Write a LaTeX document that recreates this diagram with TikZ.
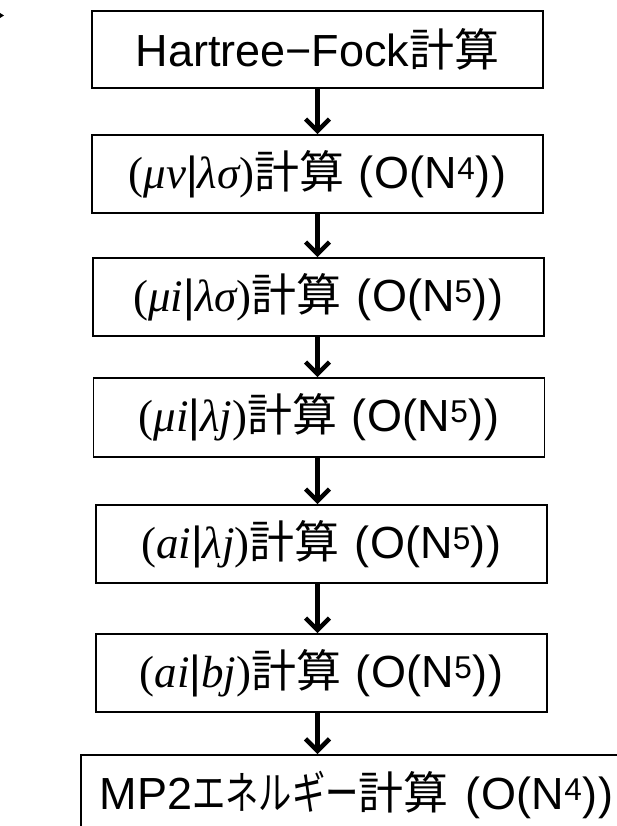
\documentclass[tikz,border=0pt]{standalone}
\usepackage{fontspec}
\usepackage{graphicx}
\setmainfont{Liberation Sans}
\newfontfamily\cjk{Noto Sans CJK JP}
\newfontfamily\tms{Liberation Serif}
\usetikzlibrary{arrows.meta}
\newcommand\KS{{\cjk 計算}}
\newcommand\mi[1]{{\tms\itshape #1}}
\newcommand\pu[1]{{\tms #1}}
\newcommand\Ord[1]{\kern2pt(\kern1pt O(N\textsuperscript{#1})\kern1pt)}
\begin{document}
\begin{tikzpicture}[x=1pt,y=-1pt,
  box/.style={draw, line width=1.6pt, rectangle, inner sep=0pt, minimum width=451pt, minimum height=78pt,
    font=\fontsize{45}{52}\selectfont},
  arr/.style={line width=4.5pt, -{Straight Barb[length=12pt,width=24pt,line width=4.5pt]}}]
\clip (0,0) rectangle (617,826);
\useasboundingbox (0,0) rectangle (617,826);
\fill (0,13) -- (4,15.5) -- (0,18) -- cycle;
\node[box, minimum height=77pt] (b1) at (317.5,49.5) {Hartree−Fock\KS};
\node[box] (b2) at (317.5,174) {\pu{(}\mi{μν}|\mi{λσ}\pu{)}\KS{} \Ord{4}};
\node[box] (b3) at (318.5,297) {\pu{(}\mi{μi}|\mi{λσ}\pu{)}\KS{} \Ord{5}};
\node[box, minimum height=79pt] (b4) at (319,417.5) {\pu{(}\mi{μi}|\mi{λj}\pu{)}\KS{} \Ord{5}};
\node[box] (b5) at (321.5,544) {\pu{(}\mi{ai}|\mi{λj}\pu{)}\KS{} \Ord{5}};
\node[box] (b6) at (321.5,673) {\pu{(}\mi{ai}|\mi{bj}\pu{)}\KS{} \Ord{5}};
\node[box, anchor=north west, minimum height=126pt, text width=540pt, align=left, inner xsep=19pt]
  (b7) at (80,754) {\raisebox{54pt}{MP2{\cjk\scalebox{0.74}[1]{エネルギー}計算} \Ord{4}}};
\coordinate (ax) at (317.5,0);
\draw[arr] (b1.south -| ax) -- (b2.north -| ax);
\draw[arr] (b2.south -| ax) -- (b3.north -| ax);
\draw[arr] (b3.south -| ax) -- (b4.north -| ax);
\draw[arr] (b4.south -| ax) -- (b5.north -| ax);
\draw[arr] (b5.south -| ax) -- (b6.north -| ax);
\draw[arr] (b6.south -| ax) -- (b7.north -| ax);
\end{tikzpicture}
\end{document}
